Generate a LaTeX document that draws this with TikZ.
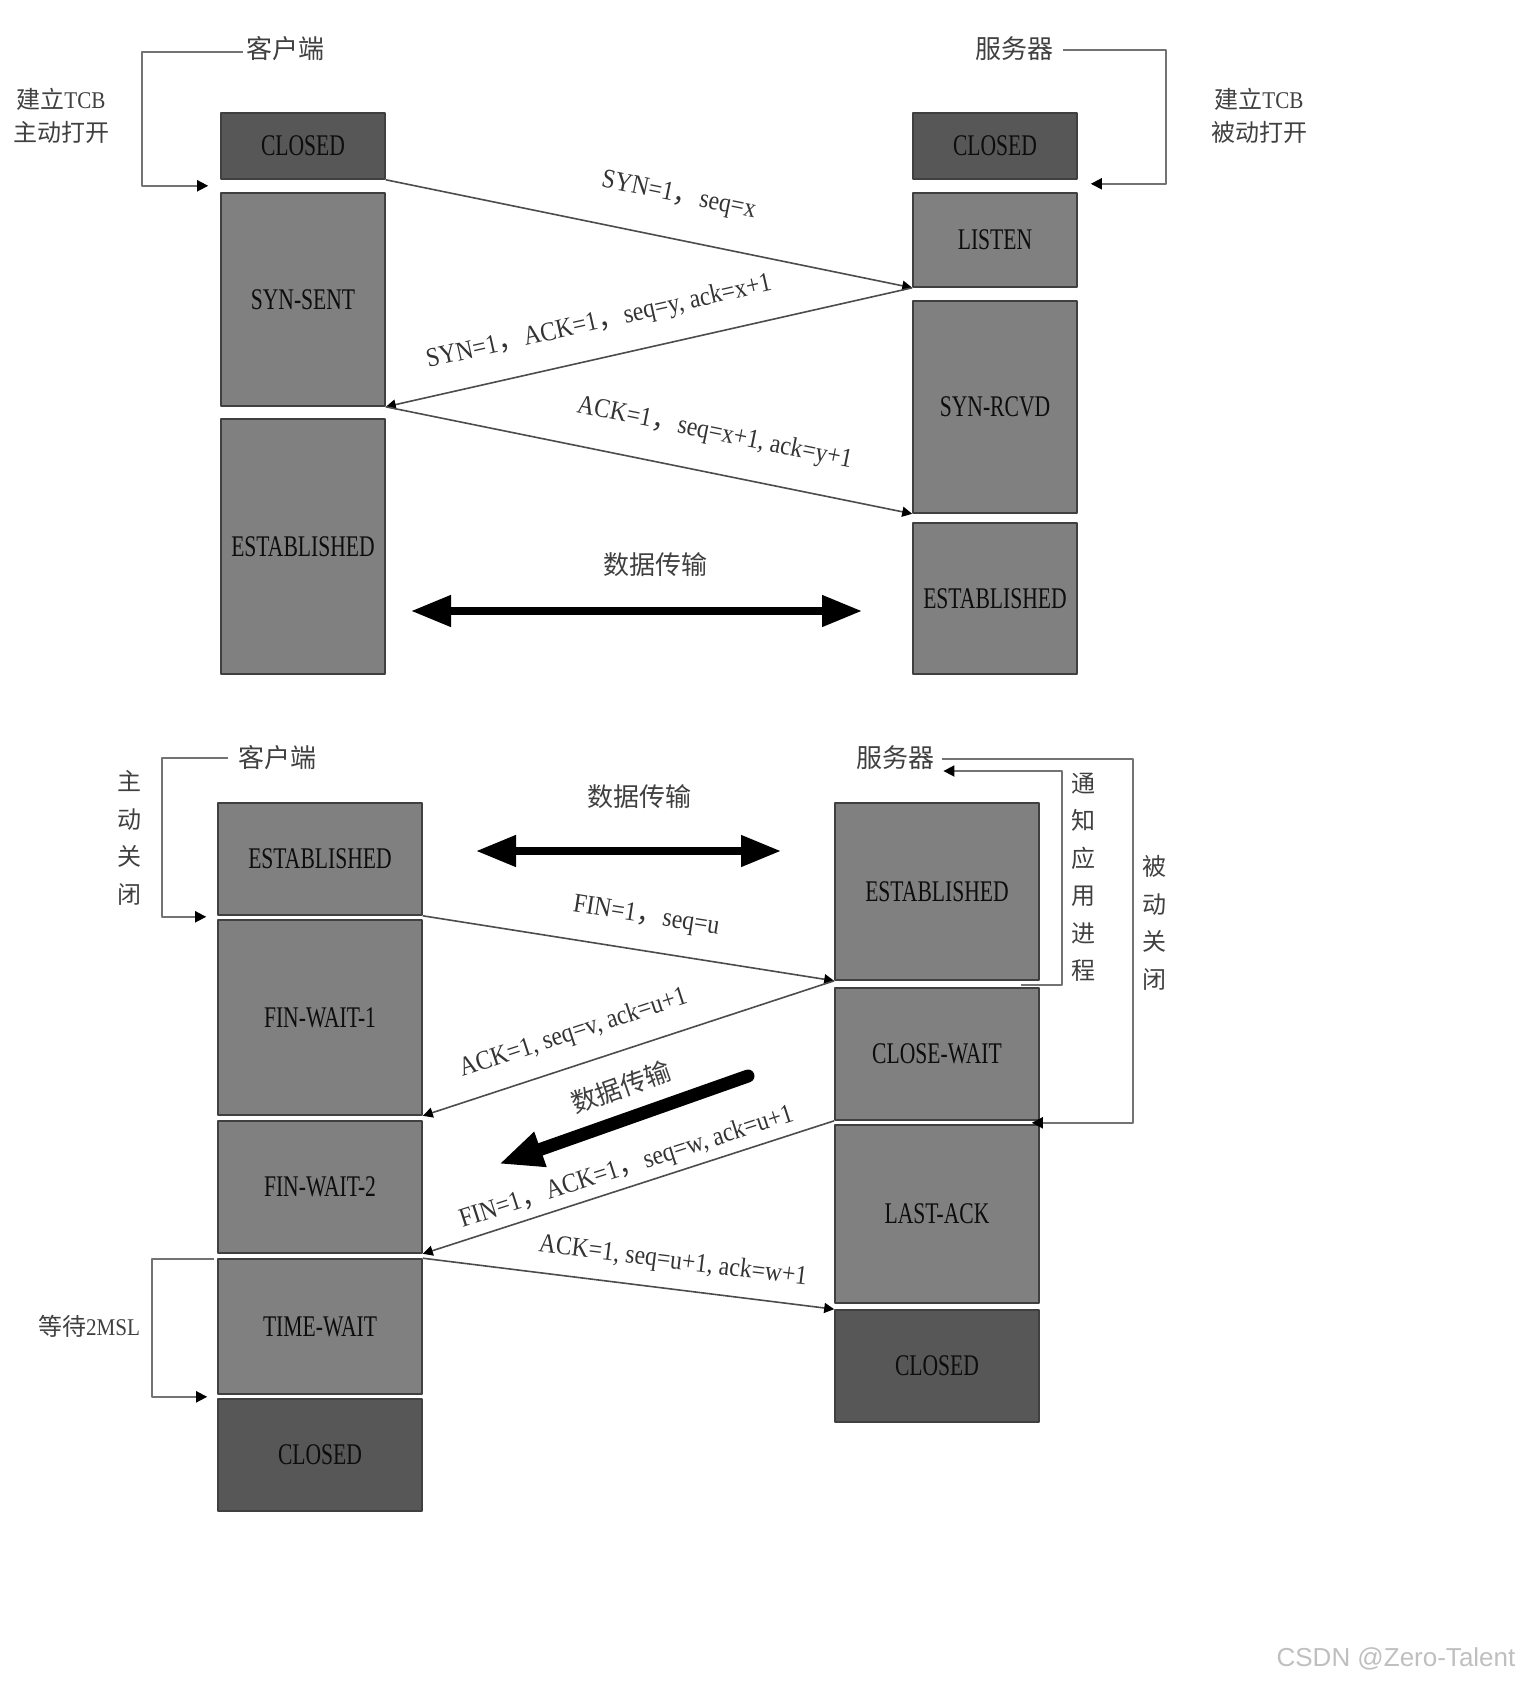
\documentclass[tikz,border=0pt]{standalone}
\usepackage{fontspec}
\setmainfont{Liberation Serif}
\newfontfamily\cjk{Noto Sans CJK SC}
\newfontfamily\boxfont[FakeStretch=0.72]{Liberation Serif}
\newfontfamily\lblfont[FakeStretch=0.88]{Liberation Serif}
\newfontfamily\wmfont{Liberation Sans}
\usetikzlibrary{calc,arrows.meta,positioning}
\newcommand{\fwc}{{\cjk ，}}

\begin{document}
\begin{tikzpicture}[x=0.5pt, y=-0.5pt, line join=round,
    state/.style={draw=black!75, line width=0.8pt, fill=black!50, text=black!95,
      font=\fontsize{15}{18}\boxfont, inner sep=0pt},
    closedstate/.style={state, fill=black!66},
    topcol/.style={minimum width=82pt},
    botcol/.style={minimum width=102pt},
    msg/.style={draw=black!70, line width=0.8pt, -{Triangle[length=5pt,width=5pt,color=black]}},
    msgl/.style={draw=black!70, line width=0.8pt, {Triangle[length=5pt,width=5pt,color=black]}-},
    lbl/.style={sloped, font=\fontsize{13.5}{16}\lblfont, text=black!80, inner sep=1pt},
    bracket/.style={draw=black!55, line width=0.9pt, -{Triangle[length=5.5pt,width=5.5pt,color=black]}},
    side/.style={font=\fontsize{12}{18.75}\cjk, text=black!75, align=center, inner sep=0pt},
    host/.style={font=\fontsize{13}{16}\cjk, text=black!75, inner sep=0pt},
    data/.style={line width=3.8pt, {Triangle[length=20pt,width=15pt]}-{Triangle[length=20pt,width=15pt]}}]
  \useasboundingbox (0,0) rectangle (1530,1684);

  % connection set-up
  \node[closedstate, topcol, minimum height=33pt] (cclosed) at (303,146) {CLOSED};
  \node[state, topcol, minimum height=106.5pt] (synsent) at (303,299.5) {SYN-SENT};
  \node[state, topcol, minimum height=127.5pt] (cest) at (303,546.5) {ESTABLISHED};
  \node[closedstate, topcol, minimum height=33pt] (sclosed) at (995,146) {CLOSED};
  \node[state, topcol, minimum height=47pt] (listen) at (995,240) {LISTEN};
  \node[state, topcol, minimum height=106pt] (synrcvd) at (995,407) {SYN-RCVD};
  \node[state, topcol, minimum height=75.5pt] (sest) at (995,598.5) {ESTABLISHED};

  \node[host] (client) at (285,49) {客户端};
  \node[host] (server) at (1014,49) {服务器};
  \node[side, font=\fontsize{12}{16.5}\cjk] (aopen) at (61,116) {建立{\lblfont TCB}\\主动打开};
  \node[side, font=\fontsize{12}{16.5}\cjk] (popen) at (1259,116) {建立{\lblfont TCB}\\被动打开};
  \draw[bracket] ($(client.west)+(-3,3)$) -| ($(cclosed.south west)+(-78,6)$) -- ($(cclosed.south west)+(-12,6)$);
  \draw[bracket] ($(server.east)+(10,1)$) -| ($(sclosed.south east)+(88,4)$) -- ($(sclosed.south east)+(13,4)$);

  \draw[msg] (cclosed.south east) -- node[lbl, pos=.54, above=14pt] {SYN=1\fwc seq=x} (listen.south west);
  \draw[msgl] (synsent.south east) -- node[lbl, pos=.42, above=10pt] {SYN=1\fwc ACK=1\fwc seq=y, ack=x+1} (listen.south west);
  \draw[msg] (synsent.south east) -- node[lbl, pos=.61, above=12pt] {ACK=1\fwc seq=x+1, ack=y+1} (synrcvd.south west);

  \node[host] (data1) at (655,565) {数据传输};
  \draw[data] (411,611) -- (862,611);

  % connection release
  \node[state, botcol, minimum height=56pt] (cest2) at (320,859) {ESTABLISHED};
  \node[state, botcol, minimum height=97.5pt] (finwait1) at (320,1017.5) {FIN-WAIT-1};
  \node[state, botcol, minimum height=66pt] (finwait2) at (320,1187) {FIN-WAIT-2};
  \node[state, botcol, minimum height=67.5pt] (timewait) at (320,1326.5) {TIME-WAIT};
  \node[closedstate, botcol, minimum height=56pt] (cclosed2) at (320,1455) {CLOSED};
  \node[state, botcol, minimum height=88.5pt] (sest2) at (937,891.5) {ESTABLISHED};
  \node[state, botcol, minimum height=66pt] (closewait) at (937,1054) {CLOSE-WAIT};
  \node[state, botcol, minimum height=89pt] (lastack) at (937,1214) {LAST-ACK};
  \node[closedstate, botcol, minimum height=56pt] (sclosed2) at (937,1366) {CLOSED};

  \node[host] (client2) at (277,758) {客户端};
  \node[host] (server2) at (895,758) {服务器};
  \node[side] (aclose) at (129,838) {主\\动\\关\\闭};
  \node[side] (notify) at (1083,877) {通\\知\\应\\用\\进\\程};
  \node[side] (pclose) at (1154,923) {被\\动\\关\\闭};
  \node[side] (wait) at (89,1326) {等待{\lblfont 2MSL}};
  \draw[bracket] ($(client2.west)+(-10,0)$) -| ($(cest2.south west)+(-55,1)$) -- ($(cest2.south west)+(-11,1)$);
  \draw[bracket] ($(server2.east)+(8,1)$) -| ($(closewait.south east)+(93,2)$) -- ($(closewait.south east)+(-8,2)$);
  \draw[bracket] ($(sest2.south east)+(-19,4)$) -| (1062,771) -- ($(server2.east)+(9,13)$);
  \draw[bracket] ($(timewait.north west)+(-3,1)$) -| ($(timewait.south west)+(-65,2)$) -- ($(timewait.south west)+(-10,2)$);

  \node[host] (data2) at (639,797) {数据传输};
  \draw[data] (476,851) -- (781,851);

  \draw[msg] (cest2.south east) -- node[lbl, pos=.53, above=9.5pt] {FIN=1\fwc seq=u} (sest2.south west);
  \draw[msgl] (finwait1.south east) -- node[lbl, pos=.39, above=8pt] {ACK=1, seq=v, ack=u+1} (sest2.south west);
  \draw[msgl] (finwait2.south east) -- node[lbl, pos=.51, above=2pt] {FIN=1\fwc ACK=1\fwc seq=w, ack=u+1} (closewait.south west);
  \draw[msg] (timewait.north east) -- node[lbl, pos=.6, above=6pt] {ACK=1, seq=u+1, ack=w+1} (sclosed2.north west);

  \node[host, rotate=19.5] (data3) at (621,1087) {数据传输};
  \draw[line width=6.5pt, line cap=round, -{Triangle[length=22pt,width=17pt]}] (748,1076) -- (499,1164);

  \node[font=\fontsize{13}{15}\wmfont, text=black!25] (wm) at (1396,1659) {CSDN @Zero-Talent};
\end{tikzpicture}
\end{document}
